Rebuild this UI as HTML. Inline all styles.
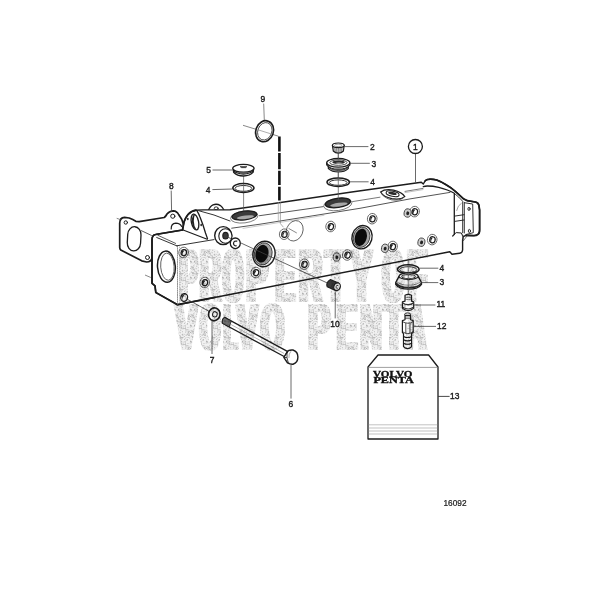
<!DOCTYPE html>
<html><head><meta charset="utf-8"><title>16092</title>
<style>html,body{margin:0;padding:0;background:#fff;}body{width:600px;height:600px;overflow:hidden;font-family:"Liberation Sans",sans-serif;}svg{display:block;filter:blur(0.45px);}</style>
</head><body>
<svg width="600" height="600" viewBox="0 0 600 600"><defs><pattern id="st" width="16" height="16" patternUnits="userSpaceOnUse"><rect width="16" height="16" fill="#f1f1f1"/><circle cx="5.18" cy="2.41" r="0.35" fill="#b4b4b4"/><circle cx="13.14" cy="1.51" r="0.35" fill="#bebebe"/><circle cx="0.60" cy="6.94" r="0.35" fill="#bebebe"/><circle cx="1.45" cy="6.79" r="0.35" fill="#bebebe"/><circle cx="10.09" cy="9.33" r="0.35" fill="#aaaaaa"/><circle cx="0.79" cy="3.54" r="0.42" fill="#c6c6c6"/><circle cx="6.71" cy="8.65" r="0.5" fill="#bebebe"/><circle cx="1.65" cy="9.14" r="0.42" fill="#c6c6c6"/><circle cx="1.56" cy="11.39" r="0.35" fill="#bebebe"/><circle cx="7.94" cy="8.51" r="0.5" fill="#aaaaaa"/><circle cx="9.37" cy="7.25" r="0.5" fill="#bebebe"/><circle cx="12.71" cy="11.18" r="0.42" fill="#b4b4b4"/><circle cx="9.19" cy="8.40" r="0.5" fill="#aaaaaa"/><circle cx="4.61" cy="15.68" r="0.35" fill="#aaaaaa"/><circle cx="2.64" cy="5.47" r="0.6" fill="#aaaaaa"/><circle cx="0.63" cy="10.69" r="0.5" fill="#c6c6c6"/><circle cx="11.12" cy="9.51" r="0.6" fill="#b4b4b4"/><circle cx="13.44" cy="15.11" r="0.6" fill="#b4b4b4"/><circle cx="0.97" cy="11.22" r="0.6" fill="#c6c6c6"/><circle cx="11.47" cy="14.19" r="0.5" fill="#b4b4b4"/><circle cx="15.05" cy="5.69" r="0.35" fill="#aaaaaa"/><circle cx="0.94" cy="12.29" r="0.42" fill="#bebebe"/><circle cx="6.37" cy="14.67" r="0.6" fill="#b4b4b4"/><circle cx="2.66" cy="6.43" r="0.5" fill="#bebebe"/><circle cx="13.11" cy="13.82" r="0.5" fill="#aaaaaa"/><circle cx="15.78" cy="10.92" r="0.6" fill="#bebebe"/><circle cx="2.41" cy="2.82" r="0.42" fill="#bebebe"/><circle cx="0.19" cy="13.30" r="0.42" fill="#c6c6c6"/><circle cx="4.51" cy="2.33" r="0.5" fill="#c6c6c6"/><circle cx="15.25" cy="11.05" r="0.35" fill="#aaaaaa"/><circle cx="14.39" cy="12.48" r="0.6" fill="#aaaaaa"/><circle cx="6.38" cy="1.66" r="0.6" fill="#b4b4b4"/><circle cx="3.05" cy="15.75" r="0.6" fill="#bebebe"/><circle cx="1.76" cy="9.61" r="0.35" fill="#b4b4b4"/><circle cx="9.07" cy="8.59" r="0.5" fill="#b4b4b4"/><circle cx="1.13" cy="3.33" r="0.6" fill="#bebebe"/><circle cx="10.15" cy="15.29" r="0.5" fill="#aaaaaa"/><circle cx="1.97" cy="13.58" r="0.6" fill="#aaaaaa"/><circle cx="7.74" cy="1.37" r="0.35" fill="#c6c6c6"/><circle cx="11.85" cy="7.66" r="0.42" fill="#b4b4b4"/><circle cx="3.28" cy="15.23" r="0.5" fill="#bebebe"/><circle cx="11.04" cy="14.63" r="0.5" fill="#b4b4b4"/><circle cx="11.14" cy="4.18" r="0.5" fill="#bebebe"/><circle cx="5.69" cy="3.56" r="0.5" fill="#bebebe"/><circle cx="9.81" cy="12.61" r="0.42" fill="#bebebe"/><circle cx="13.09" cy="11.84" r="0.42" fill="#bebebe"/><circle cx="8.28" cy="5.69" r="0.35" fill="#b4b4b4"/><circle cx="12.64" cy="7.56" r="0.42" fill="#c6c6c6"/><circle cx="7.16" cy="14.99" r="0.5" fill="#c6c6c6"/><circle cx="1.29" cy="1.63" r="0.6" fill="#bebebe"/><circle cx="5.40" cy="7.72" r="0.35" fill="#aaaaaa"/><circle cx="14.55" cy="5.50" r="0.35" fill="#b4b4b4"/><circle cx="14.56" cy="12.52" r="0.42" fill="#aaaaaa"/><circle cx="14.22" cy="6.94" r="0.5" fill="#b4b4b4"/><circle cx="12.81" cy="15.55" r="0.6" fill="#aaaaaa"/><circle cx="6.42" cy="15.15" r="0.42" fill="#bebebe"/><circle cx="15.89" cy="0.44" r="0.6" fill="#bebebe"/><circle cx="9.79" cy="9.53" r="0.6" fill="#c6c6c6"/><circle cx="2.49" cy="8.77" r="0.35" fill="#b4b4b4"/><circle cx="12.79" cy="11.62" r="0.35" fill="#bebebe"/><circle cx="6.94" cy="13.95" r="0.42" fill="#b4b4b4"/><circle cx="4.03" cy="4.69" r="0.42" fill="#c6c6c6"/><circle cx="4.15" cy="6.70" r="0.42" fill="#b4b4b4"/><circle cx="14.56" cy="5.66" r="0.6" fill="#aaaaaa"/><circle cx="13.23" cy="14.05" r="0.42" fill="#bebebe"/><circle cx="8.38" cy="0.30" r="0.6" fill="#bebebe"/><circle cx="9.74" cy="12.42" r="0.42" fill="#bebebe"/><circle cx="2.26" cy="9.91" r="0.35" fill="#b4b4b4"/><circle cx="5.22" cy="8.29" r="0.6" fill="#b4b4b4"/><circle cx="14.13" cy="0.91" r="0.42" fill="#c6c6c6"/><circle cx="0.68" cy="1.56" r="0.6" fill="#b4b4b4"/><circle cx="12.16" cy="14.60" r="0.6" fill="#c6c6c6"/><circle cx="9.80" cy="8.09" r="0.42" fill="#c6c6c6"/><circle cx="7.24" cy="8.53" r="0.6" fill="#bebebe"/><circle cx="11.19" cy="14.02" r="0.5" fill="#bebebe"/><circle cx="13.44" cy="2.19" r="0.35" fill="#aaaaaa"/><circle cx="7.07" cy="1.16" r="0.42" fill="#aaaaaa"/><circle cx="1.17" cy="10.71" r="0.35" fill="#bebebe"/><circle cx="15.03" cy="10.30" r="0.5" fill="#bebebe"/><circle cx="4.05" cy="2.20" r="0.6" fill="#bebebe"/><circle cx="11.95" cy="1.51" r="0.6" fill="#bebebe"/><circle cx="15.84" cy="13.32" r="0.42" fill="#aaaaaa"/><circle cx="15.91" cy="6.46" r="0.6" fill="#bebebe"/><circle cx="5.71" cy="1.48" r="0.5" fill="#b4b4b4"/><circle cx="5.41" cy="7.34" r="0.35" fill="#aaaaaa"/><circle cx="5.30" cy="9.98" r="0.35" fill="#b4b4b4"/><circle cx="15.76" cy="12.61" r="0.35" fill="#b4b4b4"/><circle cx="4.25" cy="0.63" r="0.42" fill="#c6c6c6"/><circle cx="12.09" cy="13.12" r="0.5" fill="#aaaaaa"/><circle cx="2.39" cy="14.71" r="0.6" fill="#c6c6c6"/><circle cx="1.43" cy="0.92" r="0.42" fill="#aaaaaa"/><circle cx="14.32" cy="4.30" r="0.35" fill="#b4b4b4"/><circle cx="12.83" cy="1.34" r="0.42" fill="#b4b4b4"/><circle cx="4.23" cy="1.95" r="0.35" fill="#c6c6c6"/><circle cx="15.91" cy="6.68" r="0.5" fill="#bebebe"/><circle cx="0.69" cy="11.35" r="0.35" fill="#bebebe"/><circle cx="4.19" cy="2.90" r="0.5" fill="#c6c6c6"/><circle cx="8.50" cy="3.29" r="0.6" fill="#bebebe"/><circle cx="4.33" cy="12.86" r="0.5" fill="#b4b4b4"/><circle cx="0.25" cy="11.73" r="0.42" fill="#aaaaaa"/><circle cx="3.93" cy="7.15" r="0.6" fill="#aaaaaa"/><circle cx="8.73" cy="14.22" r="0.5" fill="#bebebe"/><circle cx="15.72" cy="5.48" r="0.42" fill="#aaaaaa"/><circle cx="15.83" cy="15.71" r="0.42" fill="#b4b4b4"/><circle cx="1.13" cy="11.85" r="0.5" fill="#aaaaaa"/><circle cx="2.61" cy="1.35" r="0.6" fill="#c6c6c6"/><circle cx="9.58" cy="11.08" r="0.35" fill="#aaaaaa"/><circle cx="2.97" cy="4.30" r="0.35" fill="#c6c6c6"/><circle cx="5.83" cy="5.26" r="0.5" fill="#bebebe"/><circle cx="0.55" cy="14.12" r="0.42" fill="#c6c6c6"/><circle cx="2.93" cy="5.37" r="0.35" fill="#aaaaaa"/><circle cx="4.46" cy="10.50" r="0.42" fill="#b4b4b4"/><circle cx="1.45" cy="13.07" r="0.42" fill="#aaaaaa"/><circle cx="9.39" cy="6.30" r="0.5" fill="#c6c6c6"/><circle cx="10.07" cy="1.35" r="0.42" fill="#aaaaaa"/><circle cx="12.23" cy="11.53" r="0.6" fill="#bebebe"/><circle cx="4.55" cy="9.90" r="0.42" fill="#b4b4b4"/><circle cx="13.20" cy="11.44" r="0.6" fill="#bebebe"/><circle cx="14.56" cy="12.05" r="0.35" fill="#bebebe"/><circle cx="1.36" cy="0.67" r="0.5" fill="#b4b4b4"/><circle cx="6.03" cy="7.22" r="0.35" fill="#b4b4b4"/><circle cx="10.02" cy="10.89" r="0.6" fill="#c6c6c6"/><circle cx="0.05" cy="12.76" r="0.35" fill="#b4b4b4"/><circle cx="11.93" cy="7.58" r="0.35" fill="#c6c6c6"/><circle cx="3.76" cy="12.10" r="0.42" fill="#aaaaaa"/><circle cx="7.90" cy="6.12" r="0.6" fill="#c6c6c6"/><circle cx="12.27" cy="9.87" r="0.42" fill="#b4b4b4"/><circle cx="9.60" cy="5.31" r="0.5" fill="#bebebe"/><circle cx="0.20" cy="0.97" r="0.5" fill="#b4b4b4"/><circle cx="11.07" cy="10.81" r="0.5" fill="#c6c6c6"/><circle cx="7.43" cy="7.46" r="0.35" fill="#bebebe"/><circle cx="4.99" cy="1.37" r="0.6" fill="#b4b4b4"/><circle cx="4.63" cy="1.22" r="0.6" fill="#c6c6c6"/><circle cx="6.19" cy="14.66" r="0.42" fill="#b4b4b4"/><circle cx="9.30" cy="2.27" r="0.5" fill="#c6c6c6"/><circle cx="2.12" cy="13.12" r="0.5" fill="#b4b4b4"/><circle cx="11.25" cy="3.70" r="0.6" fill="#aaaaaa"/><circle cx="0.40" cy="0.06" r="0.6" fill="#aaaaaa"/><circle cx="6.49" cy="11.63" r="0.6" fill="#c6c6c6"/><circle cx="6.02" cy="1.93" r="0.5" fill="#b4b4b4"/><circle cx="5.19" cy="5.41" r="0.6" fill="#b4b4b4"/><circle cx="15.04" cy="3.13" r="0.35" fill="#c6c6c6"/><circle cx="4.05" cy="1.04" r="0.6" fill="#b4b4b4"/><circle cx="5.77" cy="6.85" r="0.5" fill="#b4b4b4"/><circle cx="4.49" cy="0.83" r="0.5" fill="#bebebe"/><circle cx="3.99" cy="4.25" r="0.5" fill="#bebebe"/><circle cx="12.37" cy="12.56" r="0.6" fill="#b4b4b4"/><circle cx="12.99" cy="10.09" r="0.42" fill="#b4b4b4"/><circle cx="0.79" cy="11.72" r="0.6" fill="#bebebe"/><circle cx="10.31" cy="4.58" r="0.35" fill="#bebebe"/></pattern></defs><rect width="600" height="600" fill="#fff"/><g id="all"><!-- ============ GASKET 8 ============ -->
<g fill="#fff" stroke="#1c1c1c" stroke-width="1.7" stroke-linejoin="round" stroke-linecap="round">
<path d="M119.7,224 Q119.4,217.6 124.5,217.3 L129.2,218 Q133,219.5 135.8,221.3 L139.2,221.7 L164.2,217.5 Q166,216 167,214 Q169.5,211 173.3,210.8 Q177,211 178.6,214.5 L181.7,219.2 L186,232 L152,258.3 Q151,262 146.7,262 L141.7,260.8 L120.8,250 Q119.7,249 119.7,247.5 Z"/>
<rect x="127.5" y="226.7" width="13.3" height="24.2" rx="6.6" ry="8" transform="rotate(3 134 238.7)" stroke-width="1.3"/>
<circle cx="125.8" cy="222.5" r="1.7" stroke-width="1"/>
<circle cx="172.8" cy="216.2" r="2.1" stroke-width="1"/>
<circle cx="147.5" cy="257.5" r="2" stroke-width="1"/>
<path d="M171.2,229 Q171,223.4 175.8,223.2 Q180,223.3 181.7,226.5" fill="none" stroke-width="1.2"/>
</g>
<!-- centre dashes near gasket -->
<g stroke="#555" stroke-width="0.7" fill="none">
<path d="M116.7,218.3 L120.8,219.7"/>
<path d="M145,275 L150.8,277.5"/>
</g>

<!-- ============ BLOCK 1 ============ -->
<g fill="#fff" stroke="#1c1c1c" stroke-width="1.7" stroke-linejoin="round" stroke-linecap="round">
<!-- back ear -->
<path d="M208.3,210.6 Q210,206 213,204.8 Q217,203.4 220.4,205.6 Q223,207.6 224.2,210.6 Z" stroke-width="1.3"/>
<ellipse cx="216.2" cy="208.3" rx="2" ry="1.4" stroke-width="0.9"/>
<!-- main silhouette -->
<path stroke-width="1.4" d="M152,240 Q152,235 155.5,234.5 L182.5,230 L184,222 Q185.5,217.5 188,214.5 Q191.5,210.8 196,210.2 L203,209.9 L230,209.8 L250,207 L350,192.3 L421.3,182.2 L423.3,184 L425.3,180.7 Q426.5,179.3 428.7,179.3 Q433,179 436.7,180 Q442,182 446,184.7 Q451,187.5 455.3,191.3 Q459.5,195 463.3,198.7 L467.3,200.7 L475.3,202 Q478.3,202.5 478.9,205.3 L479.6,210 L479.6,230 Q479.6,233.5 478,234.3 Q476.5,235.6 474,235.6 L466,235.3 L463.3,236.5 L462.6,240 L462.6,250 Q462.3,253 459.7,253.2 L452,254.2 L449.8,251.8 L177.5,304.7 L155.8,292.5 L155,285.8 L152,283.3 Z"/>
</g>
<g id="over"><g fill="none" stroke="#1c1c1c" stroke-width="1.1" stroke-linejoin="round" stroke-linecap="round">
<!-- heavier left end outline -->
<path d="M196,210.2 Q191.5,210.8 188,214.5 Q185.5,217.5 184,222 L182.5,230 L155.5,234.5 Q152,235 152,240 L152,283.3 L155,285.8 L155.8,292.5 L177.5,304.7 L215,297.4" stroke-width="1.75"/>
<path d="M157.7,235.2 L175.6,243.4" stroke-width="0.8" stroke="#333"/>
<path d="M141.2,230.6 L151.4,235.4" stroke-width="0.8" stroke="#333"/>
<!-- heavier right flange + top hump outline -->
<path d="M425.3,180.7 Q426.5,179.3 428.7,179.3 Q433,179 436.7,180 Q442,182 446,184.7 Q451,187.5 455.3,191.3 Q459.5,195 463.3,198.7 L467.3,200.7 L475.3,202 Q478.3,202.5 478.9,205.3 L479.6,210 L479.6,230 Q479.6,233.5 478,234.3 Q476.5,235.6 474,235.6 L466,235.3" stroke-width="1.75"/>
<!-- end face top inner edge -->
<path d="M156.7,237.5 L176.7,245.8" stroke-width="0.9"/>
<!-- end face / front face vertical -->
<path d="M177.5,246 L177.5,304.5" stroke="#777" stroke-width="0.8" stroke-dasharray="1.2 1"/>
<path d="M179.6,247 L179.6,303.5" stroke="#999" stroke-width="0.6" stroke-dasharray="0.8 1.4"/>
<!-- front top edge left part -->
<path d="M176.7,245.8 L214,239.6" stroke-width="0.9"/>
<!-- ear -->
<path d="M182.5,229.8 L207.2,239.2" stroke-width="1.2"/>
<path d="M197,210.8 Q199,214 200,217 L203,225 L205.5,233 L207.5,238.6" stroke-width="1.3"/>
<path d="M199,210.8 L214,215 L230,221" stroke-width="1" stroke="#333"/>
<!-- line 2 thin on top face -->
<path d="M259.5,215.7 L323.5,206.6" stroke="#444" stroke-width="0.9"/>
<path d="M352.5,201.6 L380,197.2 M405,191.4 L423,188.4" stroke="#555" stroke-width="0.8"/>
<path d="M405,192.6 L423,189.6" stroke="#999" stroke-width="0.6"/>
<!-- line 3 front top edge -->
<path d="M231.7,228.2 L260,224.2 L360,208.3 L410,198.9 L450,192.4" stroke-width="1" stroke="#555"/>
<path d="M243,228.4 L324,215.3" stroke="#aaa" stroke-width="0.6"/>
<!-- right end raised wall -->
<path d="M423.3,186.7 Q425,186 427.3,186 Q433,186 438.7,187.3 Q443,188.3 447.3,190 Q451,191.5 454.3,193.3 L454.3,234.3" stroke-width="1.3"/>
<path d="M454.3,193.3 Q459,197 462.7,201.3 L462.7,232.7" stroke-width="0.9"/>
<path d="M454.3,234.3 L452.7,236" stroke-width="1.2"/>
<path d="M454.3,234.3 L456.2,232.6 L461.4,233 L462.6,236" stroke-width="1"/>
<!-- flange face -->
<path d="M464.3,202.7 L472.7,204 L473.3,232.7 L466,234.5" stroke-width="0.9"/>
<path d="M464.3,202.7 L464.3,233" stroke-width="0.9"/>
<ellipse cx="469" cy="208.9" rx="1.1" ry="1.6" stroke-width="0.9"/>
<ellipse cx="469.4" cy="231" rx="1.1" ry="1.6" stroke-width="0.9"/>
<!-- slot -->
<path d="M454.6,216.1 L464,214.7" stroke-width="0.9"/>
<path d="M454.6,221.4 L464,220" stroke-width="0.9"/>
<path d="M456.7,210.5 Q457.5,205.5 461.3,203.3" stroke="#777" stroke-width="0.7"/>
<!-- V -->
<path d="M462.6,234.8 L463.2,241 L467.3,235.6" stroke-width="0.7" stroke="#444"/>
</g>
</g><ellipse cx="183.6" cy="252.5" rx="4.8" ry="5.3" transform="rotate(12 183.6 252.5)" fill="#fff" stroke="#5a5a5a" stroke-width="0.85"/><ellipse cx="183.9" cy="252.6" rx="2.7" ry="3.1" transform="rotate(12 183.6 252.5)" fill="#fff" stroke="#1c1c1c" stroke-width="1.2"/><path d="M182.2,250.8 Q181.0,252.7 182.6,254.9 Q182.29999999999998,252.7 184.29999999999998,250.4 Z" fill="#222" stroke="none"/>
<ellipse cx="204.7" cy="282.5" rx="4.8" ry="5.3" transform="rotate(12 204.7 282.5)" fill="#fff" stroke="#5a5a5a" stroke-width="0.85"/><ellipse cx="205.0" cy="282.6" rx="2.7" ry="3.1" transform="rotate(12 204.7 282.5)" fill="#fff" stroke="#1c1c1c" stroke-width="1.2"/><path d="M203.29999999999998,280.8 Q202.1,282.7 203.7,284.9 Q203.39999999999998,282.7 205.39999999999998,280.4 Z" fill="#222" stroke="none"/>
<ellipse cx="255.8" cy="272.5" rx="4.8" ry="5.3" transform="rotate(12 255.8 272.5)" fill="#fff" stroke="#5a5a5a" stroke-width="0.85"/><ellipse cx="256.1" cy="272.6" rx="2.7" ry="3.1" transform="rotate(12 255.8 272.5)" fill="#fff" stroke="#1c1c1c" stroke-width="1.2"/><path d="M254.4,270.8 Q253.20000000000002,272.7 254.8,274.9 Q254.5,272.7 256.5,270.4 Z" fill="#222" stroke="none"/>
<ellipse cx="284.2" cy="234.2" rx="4.8" ry="5.3" transform="rotate(12 284.2 234.2)" fill="#fff" stroke="#5a5a5a" stroke-width="0.85"/><ellipse cx="284.5" cy="234.29999999999998" rx="2.7" ry="3.1" transform="rotate(12 284.2 234.2)" fill="#fff" stroke="#1c1c1c" stroke-width="1.2"/><path d="M282.8,232.5 Q281.59999999999997,234.39999999999998 283.2,236.6 Q282.9,234.39999999999998 284.9,232.1 Z" fill="#222" stroke="none"/>
<ellipse cx="304.2" cy="264.2" rx="4.8" ry="5.3" transform="rotate(12 304.2 264.2)" fill="#fff" stroke="#5a5a5a" stroke-width="0.85"/><ellipse cx="304.5" cy="264.3" rx="2.7" ry="3.1" transform="rotate(12 304.2 264.2)" fill="#fff" stroke="#1c1c1c" stroke-width="1.2"/><path d="M302.8,262.5 Q301.59999999999997,264.4 303.2,266.59999999999997 Q302.9,264.4 304.9,262.09999999999997 Z" fill="#222" stroke="none"/>
<ellipse cx="330.6" cy="226.5" rx="4.8" ry="5.3" transform="rotate(12 330.6 226.5)" fill="#fff" stroke="#5a5a5a" stroke-width="0.85"/><ellipse cx="330.90000000000003" cy="226.6" rx="2.7" ry="3.1" transform="rotate(12 330.6 226.5)" fill="#fff" stroke="#1c1c1c" stroke-width="1.2"/><path d="M329.20000000000005,224.8 Q328.0,226.7 329.6,228.9 Q329.3,226.7 331.3,224.4 Z" fill="#222" stroke="none"/>
<ellipse cx="372.2" cy="218.7" rx="4.8" ry="5.3" transform="rotate(12 372.2 218.7)" fill="#fff" stroke="#5a5a5a" stroke-width="0.85"/><ellipse cx="372.5" cy="218.79999999999998" rx="2.7" ry="3.1" transform="rotate(12 372.2 218.7)" fill="#fff" stroke="#1c1c1c" stroke-width="1.2"/><path d="M370.8,217.0 Q369.59999999999997,218.89999999999998 371.2,221.1 Q370.9,218.89999999999998 372.9,216.6 Z" fill="#222" stroke="none"/>
<ellipse cx="347.3" cy="255" rx="4.8" ry="5.3" transform="rotate(12 347.3 255)" fill="#fff" stroke="#5a5a5a" stroke-width="0.85"/><ellipse cx="347.6" cy="255.1" rx="2.7" ry="3.1" transform="rotate(12 347.3 255)" fill="#fff" stroke="#1c1c1c" stroke-width="1.2"/><path d="M345.90000000000003,253.3 Q344.7,255.2 346.3,257.4 Q346.0,255.2 348.0,252.9 Z" fill="#222" stroke="none"/>
<ellipse cx="392.6" cy="246.5" rx="4.8" ry="5.3" transform="rotate(12 392.6 246.5)" fill="#fff" stroke="#5a5a5a" stroke-width="0.85"/><ellipse cx="392.90000000000003" cy="246.6" rx="2.7" ry="3.1" transform="rotate(12 392.6 246.5)" fill="#fff" stroke="#1c1c1c" stroke-width="1.2"/><path d="M391.20000000000005,244.8 Q390.0,246.7 391.6,248.9 Q391.3,246.7 393.3,244.4 Z" fill="#222" stroke="none"/>
<ellipse cx="414.6" cy="211.6" rx="4.8" ry="5.3" transform="rotate(12 414.6 211.6)" fill="#fff" stroke="#5a5a5a" stroke-width="0.85"/><ellipse cx="414.90000000000003" cy="211.7" rx="2.7" ry="3.1" transform="rotate(12 414.6 211.6)" fill="#fff" stroke="#1c1c1c" stroke-width="1.2"/><path d="M413.20000000000005,209.9 Q412.0,211.79999999999998 413.6,214.0 Q413.3,211.79999999999998 415.3,209.5 Z" fill="#222" stroke="none"/>
<ellipse cx="432.2" cy="239.6" rx="4.8" ry="5.3" transform="rotate(12 432.2 239.6)" fill="#fff" stroke="#5a5a5a" stroke-width="0.85"/><ellipse cx="432.5" cy="239.7" rx="2.7" ry="3.1" transform="rotate(12 432.2 239.6)" fill="#fff" stroke="#1c1c1c" stroke-width="1.2"/><path d="M430.8,237.9 Q429.59999999999997,239.79999999999998 431.2,242.0 Q430.9,239.79999999999998 432.9,237.5 Z" fill="#222" stroke="none"/>
<ellipse cx="336.7" cy="257" rx="3.5" ry="4.2" transform="rotate(12 336.7 257)" fill="#cfcfcf" stroke="#444" stroke-width="0.9"/><ellipse cx="336.9" cy="257.2" rx="1.5" ry="1.9" transform="rotate(12 336.7 257)" fill="#222" stroke="none"/>
<ellipse cx="385" cy="248.3" rx="3.5" ry="4.2" transform="rotate(12 385 248.3)" fill="#cfcfcf" stroke="#444" stroke-width="0.9"/><ellipse cx="385.2" cy="248.5" rx="1.5" ry="1.9" transform="rotate(12 385 248.3)" fill="#222" stroke="none"/>
<ellipse cx="407.6" cy="213" rx="3.5" ry="4.2" transform="rotate(12 407.6 213)" fill="#cfcfcf" stroke="#444" stroke-width="0.9"/><ellipse cx="407.8" cy="213.2" rx="1.5" ry="1.9" transform="rotate(12 407.6 213)" fill="#222" stroke="none"/>
<ellipse cx="421.4" cy="242.2" rx="3.5" ry="4.2" transform="rotate(12 421.4 242.2)" fill="#cfcfcf" stroke="#444" stroke-width="0.9"/><ellipse cx="421.59999999999997" cy="242.39999999999998" rx="1.5" ry="1.9" transform="rotate(12 421.4 242.2)" fill="#222" stroke="none"/>
<ellipse cx="184.2" cy="297.5" rx="3.4" ry="3.9" transform="rotate(12 184.2 297.5)" fill="#fff" stroke="#1c1c1c" stroke-width="1.2"/><path d="M181.6,295.9 Q183.2,293.5 186.2,294.5 Q182.6,295.1 182.39999999999998,299.9 Z" fill="#333" stroke="none"/><!-- ear hole -->
<g stroke="#1c1c1c" stroke-linecap="round" stroke-linejoin="round">
<ellipse cx="195" cy="222" rx="3.6" ry="8" transform="rotate(-12 195 222)" fill="#fff" stroke-width="1.3"/>
<path d="M193.2,215.2 Q190.6,220 193,226.4 Q194.6,229.6 196.4,229.6 Q193.8,226 193.8,221 Q193.8,217 195,214.6 Z" fill="#222" stroke="none"/>
<ellipse cx="187.8" cy="219" rx="0.9" ry="1.3" fill="#333" stroke="none"/>
<ellipse cx="201.2" cy="225" rx="0.9" ry="1.3" fill="#333" stroke="none"/>
</g>

<!-- end face port -->
<g stroke="#1c1c1c" fill="#fff">
<ellipse cx="166.4" cy="266.7" rx="8.9" ry="15.6" transform="rotate(-4 166.4 266.7)" stroke-width="1.5"/>
<ellipse cx="167.4" cy="266.7" rx="6.7" ry="13.6" transform="rotate(-4 167.4 266.7)" stroke-width="0.9" stroke="#555"/>
</g>

<!-- top ports -->
<g stroke="#1c1c1c" fill="#fff">
<!-- left top port (under 4/5) -->
<ellipse cx="244.3" cy="217" rx="13.8" ry="5.9" transform="rotate(-7 244.3 217)" stroke-width="0.8" stroke="#666"/>
<ellipse cx="244.4" cy="215.5" rx="12.5" ry="4.4" transform="rotate(-7 244.4 215.5)" fill="#3a3a3a" stroke-width="1.3"/>
<ellipse cx="245.4" cy="217.2" rx="8.6" ry="1.7" transform="rotate(-7 245.4 217.2)" fill="#a8a8a8" stroke="none"/>
<!-- right top port (under 2/3/4) -->
<ellipse cx="337.8" cy="204.4" rx="14.2" ry="6.1" transform="rotate(-8 337.8 204.4)" stroke-width="0.8" stroke="#666"/>
<ellipse cx="337.9" cy="202.9" rx="12.7" ry="4.6" transform="rotate(-8 337.9 202.9)" fill="#3a3a3a" stroke-width="1.3"/>
<ellipse cx="338.9" cy="204.6" rx="8.8" ry="1.8" transform="rotate(-8 338.9 204.6)" fill="#a8a8a8" stroke="none"/>
<!-- small oval flange boss on top -->
<g transform="rotate(11 392.7 194.3)">
<path d="M380.4,194.3 Q384,190.2 392.7,190 Q401.4,190.2 405,194.3 Q401.4,198.5 392.7,198.7 Q384,198.5 380.4,194.3 Z" stroke-width="1.2"/>
<path d="M381.5,195.6 Q385,199.6 392.7,199.9 Q400.4,199.6 404,195.6" fill="none" stroke-width="0.8" stroke="#444"/>
<ellipse cx="392.5" cy="193.8" rx="6.6" ry="2.6" stroke-width="1"/>
<ellipse cx="392.3" cy="193.5" rx="4.3" ry="1.4" fill="#2a2a2a" stroke="none"/>
</g>
</g>

<!-- boss on front face -->
<g stroke="#1c1c1c" fill="#fff">
<ellipse cx="223.2" cy="235.6" rx="8.5" ry="9" stroke-width="1.4"/>
<ellipse cx="225.4" cy="236" rx="6.6" ry="7.3" stroke-width="1.1" />
<ellipse cx="225.5" cy="235.7" rx="2.7" ry="3.3" fill="#3a3a3a" stroke-width="1.1"/>
<!-- small ring -->
<ellipse cx="235.3" cy="243.3" rx="5" ry="5.3" stroke-width="1.3"/>
<path d="M237.3,241.2 Q234,240.4 233.5,243.4 Q233.8,246.2 236.6,245.7" fill="none" stroke-width="1.2"/>
</g>

<!-- big ports on front face -->
<g stroke="#1c1c1c">
<ellipse cx="264" cy="254" rx="11" ry="12.9" transform="rotate(14 264 254)" fill="#fff" stroke-width="1.4"/>
<ellipse cx="263.2" cy="253.9" rx="8.8" ry="11.2" transform="rotate(14 263.2 253.9)" fill="#a4a4a4" stroke-width="0.7"/>
<ellipse cx="262" cy="253.7" rx="6.4" ry="9" transform="rotate(14 262 253.7)" fill="#0c0c0c" stroke="none"/>
<ellipse cx="362" cy="237.2" rx="10" ry="11.8" transform="rotate(16 362 237.2)" fill="#fff" stroke-width="1.4"/>
<ellipse cx="361.6" cy="237.2" rx="8.2" ry="10.3" transform="rotate(16 361.6 237.2)" fill="#a4a4a4" stroke-width="0.7"/>
<ellipse cx="360.8" cy="237.3" rx="5.9" ry="8.8" transform="rotate(16 360.8 237.3)" fill="#0c0c0c" stroke="none"/>
</g>

<!-- hidden circle -->
<ellipse cx="294.6" cy="230.8" rx="8.2" ry="10.5" transform="rotate(22 294.6 230.8)" fill="none" stroke="#444" stroke-width="0.75"/>
<path d="M280.4,202 L280.4,223.6 L283.4,227.2" fill="none" stroke="#777" stroke-width="0.6"/>
<path d="M278.3,202 L278.3,222" fill="none" stroke="#999" stroke-width="0.6"/>
<path d="M288.6,228.4 L296.8,233" fill="none" stroke="#555" stroke-width="0.7"/>
<!-- ========== ring 9 + dashed line ========== -->
<g fill="none" stroke="#1c1c1c">
<path d="M243,125.3 L278.4,136.2" stroke="#555" stroke-width="0.7"/>
<ellipse cx="264.6" cy="131.2" rx="8.8" ry="10.7" transform="rotate(20 264.6 131.2)" stroke-width="1.6" fill="#fff"/>
<ellipse cx="264.8" cy="131.3" rx="7" ry="8.9" transform="rotate(20 264.8 131.3)" stroke-width="0.8" stroke="#333"/>
<path d="M258,129.8 L272,134.2" stroke="#777" stroke-width="0.6"/>
<path d="M279.4,136.6 L279.4,151.4 M279.4,152.9 L279.4,169.2 M279.4,170.8 L279.4,185 M279.4,186.7 L279.4,200.6" stroke-width="2.6" stroke="#111"/>
<path d="M263.7,103.6 L264.3,120" stroke="#555" stroke-width="0.7"/>
</g>

<!-- ========== part 5 cap ========== -->
<g stroke="#1c1c1c" fill="#fff" stroke-linejoin="round">
<path d="M243.6,175 L243.6,211" stroke="#555" stroke-width="0.7" fill="none"/>
<path d="M233.4,169.6 L233.6,172.2 Q237,176 243.4,176 Q250,176 253.2,172.2 L253.4,169.6 Z" stroke-width="1.3"/>
<path d="M233,170.4 Q236.6,174 243.4,174 Q250.2,174 253.8,170.4" fill="none" stroke-width="1.3" stroke="#222"/>
<ellipse cx="243.4" cy="168.3" rx="10.7" ry="3.9" stroke-width="1.3"/>
<path d="M240,166.6 L247,166.6 L245.6,167.7 L241.6,167.7 Z" fill="#333" stroke-width="0.5"/>
</g>
<!-- ring 4 left -->
<g stroke="#1c1c1c" fill="none">
<ellipse cx="243.4" cy="188" rx="10.6" ry="4.4" stroke-width="1.5" fill="#fff"/>
<ellipse cx="243.4" cy="188.4" rx="8.4" ry="2.9" stroke-width="0.9"/>
<path d="M243.6,183.6 L243.6,192.4" stroke="#555" stroke-width="0.7"/>
</g>

<!-- ========== parts 2,3,4 (upper right) ========== -->
<g stroke="#1c1c1c" fill="#fff" stroke-linejoin="round">
<path d="M338.3,151 L338.3,200" stroke="#555" stroke-width="0.7" fill="none"/>
<!-- 2 plug -->
<path d="M332.4,145.4 L333.3,151 Q335.4,153.2 338.3,153.2 Q341.4,153.2 343.4,151 L344.2,145.4 Z" stroke-width="1.2" fill="#d4d4d4"/>
<path d="M334.8,147.8 L335.2,152 M336.6,148.2 L336.8,152.7 M338.4,148.2 L338.4,152.9 M340.2,148.2 L340,152.7 M341.9,147.8 L341.5,152" stroke="#444" stroke-width="0.55" fill="none"/>
<ellipse cx="338.3" cy="145.3" rx="5.9" ry="2.3" stroke-width="1.2"/>
<ellipse cx="338.3" cy="145.4" rx="3.8" ry="1.2" stroke-width="0.6" stroke="#666"/>
<!-- 3 bushing -->
<path d="M328.2,165.5 L328.4,168.6 Q332,172 338.3,172 Q344.8,172 348.2,168.6 L348.4,165.5 Z" stroke-width="1.2" fill="#b0b0b0"/>
<path d="M328.6,167.4 Q332,170.5 338.3,170.5 Q344.8,170.5 348,167.4" fill="none" stroke-width="0.9" stroke="#333"/>
<path d="M326.7,163 L326.7,165 Q330,169.2 338.3,169.2 Q346.8,169.2 349.9,165 L349.9,163 Z" stroke-width="1.2"/>
<ellipse cx="338.3" cy="162.8" rx="11.6" ry="4.3" stroke-width="1.3"/>
<ellipse cx="338.4" cy="162.6" rx="8.6" ry="2.7" stroke-width="0.8" fill="#fff"/>
<ellipse cx="338.6" cy="162.2" rx="6.3" ry="1.7" stroke="none" fill="#2c2c2c"/>
<ellipse cx="339" cy="163.1" rx="3.6" ry="0.7" stroke="none" fill="#bbb"/>
<!-- 4 ring -->
<ellipse cx="338.2" cy="182.2" rx="11.2" ry="4.2" stroke-width="1.5"/>
<ellipse cx="338.2" cy="182.6" rx="8.9" ry="2.7" stroke-width="0.9" fill="none"/>
<path d="M338.3,153.4 L338.3,160.4 M338.3,172.4 L338.3,186.5" stroke="#555" stroke-width="0.7" fill="none"/>
</g>

<!-- ========== lower parts 4,3,11,12 ========== -->
<g stroke="#1c1c1c" fill="#fff" stroke-linejoin="round">
<path d="M408.3,258.5 L408.3,296" stroke="#555" stroke-width="0.7" fill="none"/>
<!-- ring 4 -->
<ellipse cx="408.3" cy="269.2" rx="10.8" ry="4.4" stroke-width="1.5"/>
<ellipse cx="408.3" cy="269.6" rx="8.6" ry="2.9" stroke-width="0.9" fill="none"/>
<!-- bushing 3 (upside down) -->
<path d="M399,276.4 L395.7,282.6 L395.7,284.4 Q399,289.2 408.6,289.2 Q418.4,289.2 421.5,284.4 L421.5,282.6 L418.2,276.4 Z" stroke-width="1.3" fill="#f4f4f4"/>
<path d="M396.1,283.4 Q399.4,287.6 408.6,287.6 Q418,287.6 421.1,283.4" fill="none" stroke-width="1.7" stroke="#2a2a2a"/>
<path d="M396.6,281.4 Q400,285.2 408.6,285.2 Q417.4,285.2 420.6,281.4" fill="none" stroke-width="0.7" stroke="#555"/>
<ellipse cx="408.6" cy="276.2" rx="9.6" ry="3.3" stroke-width="1.2"/>
<ellipse cx="408.6" cy="276.5" rx="7" ry="2.1" stroke-width="0.8" fill="#c4c4c4"/>
<ellipse cx="408.8" cy="277.1" rx="4.6" ry="1.1" stroke="none" fill="#fff"/>
<path d="M408.3,265 L408.3,290" stroke="#555" stroke-width="0.7" fill="none"/>
<!-- 11 -->
<path d="M405,295.2 L405,301.2 L402.4,301.8 L402.4,308.2 Q404.8,310.6 408.1,310.6 Q411.4,310.6 413.7,308.2 L413.7,301.8 L411.5,301.2 L411.5,295.2 Q408.2,293.6 405,295.2 Z" stroke-width="1.2"/>
<path d="M402.4,302.8 Q405,304.8 408.1,304.8 Q411.4,304.8 413.7,302.8" fill="none" stroke-width="1.4" stroke="#333"/>
<path d="M402.4,306.8 Q405,309 408.1,309 Q411.4,309 413.7,306.8" fill="none" stroke-width="0.9"/>
<path d="M405,297 Q408.2,298.4 411.5,297 M405,299 Q408.2,300.4 411.5,299" stroke-width="0.6" fill="none"/>
<!-- 12 -->
<ellipse cx="407.6" cy="314.4" rx="3" ry="1.5" stroke-width="1" fill="none"/>
<path d="M405,315.4 L405,319.8 L402.4,320.6 L402.4,332.6 L403.5,333.6 L403.5,346.6 Q405.4,348.6 407.6,348.6 Q409.8,348.6 411.6,346.6 L411.6,333.6 L413.2,332.6 L413.2,320.6 L410.6,319.8 L410.6,315.4 Z" stroke-width="1.2"/>
<path d="M405,317 L410.6,317 M405,318.6 L410.6,318.6" stroke-width="0.6" fill="none"/>
<path d="M402.4,321.6 Q405,323.2 407.8,323.2 Q411,323.2 413.2,321.6 M405.8,323.2 L405.8,333.4 M410,323.2 L410,333.4 M402.4,331.6 Q405,333.6 407.8,333.6 Q411,333.6 413.2,331.6" fill="none" stroke-width="0.8"/>
<path d="M403.5,336.4 Q407.6,338.6 411.6,336.4 M403.5,339.8 Q407.6,342 411.6,339.8 M403.5,343.2 Q407.6,345.4 411.6,343.2" fill="none" stroke-width="1.1"/>
</g>

<!-- ========== plug 10 ========== -->
<g stroke="#1c1c1c" stroke-linejoin="round">
<path d="M227,236.8 L231,238.6 M240.3,242.7 L328.6,283.6" stroke="#444" stroke-width="0.8" fill="none"/>
<path d="M330.2,279.6 L338.6,283 L335.6,290.4 L327.2,286.8 Q325.6,282.6 330.2,279.6 Z" fill="#3c3c3c" stroke-width="1.1"/>
<ellipse cx="337.1" cy="286.7" rx="3.2" ry="3.9" transform="rotate(20 337.1 286.7)" fill="#fff" stroke-width="1.2"/>
<path d="M338.2,285.4 Q336,285 335.9,287 Q336.2,288.6 337.8,288.2" fill="none" stroke-width="0.8"/>
<path d="M335.3,291.3 L335.2,318.4" stroke="#444" stroke-width="0.8" fill="none"/>
</g>

<!-- ========== washer 7, bolt 6 ========== -->
<g stroke="#1c1c1c" fill="#fff" stroke-linejoin="round">
<path d="M186.5,298.8 L209.3,311.5" stroke="#444" stroke-width="0.8" fill="none"/>
<ellipse cx="214.3" cy="314.3" rx="5.7" ry="6.4" transform="rotate(10 214.3 314.3)" stroke-width="1.6"/>
<ellipse cx="214.9" cy="314.3" rx="2.3" ry="2.7" transform="rotate(10 214.9 314.3)" stroke-width="1"/>
<path d="M212,320.6 L212,354" stroke="#444" stroke-width="0.8" fill="none"/>
<!-- bolt shaft -->
<path d="M224.6,317.4 L287.4,351.4 L284.6,356.8 L222.4,323.2 Q221.6,319 224.6,317.4 Z" stroke-width="1.3"/>
<path d="M224.6,317.4 L231.4,321.1 L229.2,326.9 L222.4,323.2 Q221.6,319 224.6,317.4 Z" fill="#777" stroke-width="0.8"/>
<path d="M226,321.8 L284,353.4" stroke="#888" stroke-width="0.6" fill="none"/>
<!-- head -->
<path d="M288.2,350.6 Q290.5,349.7 293,350 Q297.9,351.6 297.9,357.1 Q297.9,363 293,364.2 Q290,364.4 287.6,363 L283.8,357.4 Z" stroke-width="1.4"/>
<path d="M288.2,350.6 Q286.4,353.4 287,357.6 Q287.4,361.6 289.6,364 M287,357.6 L284,357.4" fill="none" stroke-width="0.8"/>
<path d="M291,351.2 Q288.6,353.8 288.9,358" fill="none" stroke-width="0.6" stroke="#777"/>
<path d="M291,365 L291,398.6" stroke="#444" stroke-width="0.8" fill="none"/>
</g>

<!-- ========== envelope 13 ========== -->
<g stroke="#1c1c1c" fill="#fff" stroke-linejoin="round">
<path d="M378,355 L428.6,355 L438,367 L438,439 L368,439 L368,367 Z" stroke-width="1.3" stroke="#1c1c1c"/>
<path d="M368,367.4 L438,367.4" stroke-width="0.7" stroke="#777" fill="none"/>
<path d="M368.6,424.8 L437.4,424.8 M368.6,428 L437.4,428 M368.6,431 L437.4,431 M368.6,434 L437.4,434" stroke="#999" stroke-width="0.6" fill="none"/>

<path d="M438,396.4 L449.6,396.4" stroke="#333" stroke-width="0.9" fill="none"/>
</g>
<g font-family="Liberation Serif, serif" font-weight="bold" fill="#111" stroke="#111" stroke-width="0.3">
<text x="373" y="377.1" font-size="7.4" textLength="39.4" lengthAdjust="spacingAndGlyphs">VOLVO</text>
<text x="373.4" y="383.3" font-size="7.4" textLength="40.4" lengthAdjust="spacingAndGlyphs">PENTA</text>
</g>
<g fill="none" stroke="#444" stroke-width="0.8">
<path d="M212.5,170 L232.6,170"/>
<path d="M212.4,189.6 L232.2,189"/>
<path d="M171.2,190.6 L171.6,212"/>
<path d="M344.8,146.6 L368.4,146.6"/>
<path d="M350.4,163.3 L369.8,163.3"/>
<path d="M349.8,181.8 L368.6,181.8"/>
<path d="M415.5,153.7 L415.5,182.4"/>
<path d="M419.6,268.2 L438.3,268.2"/>
<path d="M421,282.6 L438.3,282.6"/>
<path d="M413.8,305 L435.4,305"/>
<path d="M413.4,326.4 L436,326.4"/>
</g>
<circle cx="415.4" cy="146.5" r="7" fill="#fff" stroke="#1c1c1c" stroke-width="1.3"/><g font-family="Liberation Sans, sans-serif" font-size="9.6" fill="#1c1c1c" text-anchor="middle" stroke="#1c1c1c" stroke-width="0.4">
<text transform="translate(262.9,102.2) scale(0.88,1)">9</text>
<text transform="translate(208.7,173.3) scale(0.88,1)">5</text>
<text transform="translate(208.2,192.6) scale(0.88,1)">4</text>
<text transform="translate(171.4,188.9) scale(0.88,1)">8</text>
<text transform="translate(372.3,149.6) scale(0.88,1)">2</text>
<text transform="translate(373.8,166.8) scale(0.88,1)">3</text>
<text transform="translate(372.5,185.4) scale(0.88,1)">4</text>
<text transform="translate(415.3,149.9) scale(0.88,1)">1</text>
<text transform="translate(441.9,271.2) scale(0.88,1)">4</text>
<text transform="translate(441.9,285.4) scale(0.88,1)">3</text>
<text transform="translate(440.8,307.2) scale(0.88,1)">11</text>
<text transform="translate(441.8,328.8) scale(0.88,1)">12</text>
<text transform="translate(334.9,327.2) scale(0.88,1)">10</text>
<text transform="translate(212.1,362.8) scale(0.88,1)">7</text>
<text transform="translate(290.8,407.3) scale(0.88,1)">6</text>
<text transform="translate(454.8,399.4) scale(0.88,1)">13</text>
<text transform="translate(455,506.1) scale(0.9,1)" font-size="9.2" stroke-width="0.25">16092</text>
</g><g style="mix-blend-mode:multiply" font-family="Liberation Sans, sans-serif" font-weight="bold" fill="url(#st)"><text x="177.70" y="302" font-size="75.6" textLength="17.3" lengthAdjust="spacingAndGlyphs">P</text><text x="178.90" y="302" font-size="75.6" textLength="17.3" lengthAdjust="spacingAndGlyphs">P</text><text x="180.10" y="302" font-size="75.6" textLength="17.3" lengthAdjust="spacingAndGlyphs">P</text><text x="181.30" y="302" font-size="75.6" textLength="17.3" lengthAdjust="spacingAndGlyphs">P</text><text x="182.50" y="302" font-size="75.6" textLength="17.3" lengthAdjust="spacingAndGlyphs">P</text><text x="197.70" y="302" font-size="75.6" textLength="20.8" lengthAdjust="spacingAndGlyphs">R</text><text x="198.90" y="302" font-size="75.6" textLength="20.8" lengthAdjust="spacingAndGlyphs">R</text><text x="200.10" y="302" font-size="75.6" textLength="20.8" lengthAdjust="spacingAndGlyphs">R</text><text x="201.30" y="302" font-size="75.6" textLength="20.8" lengthAdjust="spacingAndGlyphs">R</text><text x="202.50" y="302" font-size="75.6" textLength="20.8" lengthAdjust="spacingAndGlyphs">R</text><text x="220.70" y="302" font-size="75.6" textLength="19.8" lengthAdjust="spacingAndGlyphs">O</text><text x="221.90" y="302" font-size="75.6" textLength="19.8" lengthAdjust="spacingAndGlyphs">O</text><text x="223.10" y="302" font-size="75.6" textLength="19.8" lengthAdjust="spacingAndGlyphs">O</text><text x="224.30" y="302" font-size="75.6" textLength="19.8" lengthAdjust="spacingAndGlyphs">O</text><text x="225.50" y="302" font-size="75.6" textLength="19.8" lengthAdjust="spacingAndGlyphs">O</text><text x="244.20" y="302" font-size="75.6" textLength="21.3" lengthAdjust="spacingAndGlyphs">P</text><text x="245.40" y="302" font-size="75.6" textLength="21.3" lengthAdjust="spacingAndGlyphs">P</text><text x="246.60" y="302" font-size="75.6" textLength="21.3" lengthAdjust="spacingAndGlyphs">P</text><text x="247.80" y="302" font-size="75.6" textLength="21.3" lengthAdjust="spacingAndGlyphs">P</text><text x="249.00" y="302" font-size="75.6" textLength="21.3" lengthAdjust="spacingAndGlyphs">P</text><text x="273.20" y="302" font-size="75.6" textLength="19.3" lengthAdjust="spacingAndGlyphs">E</text><text x="274.40" y="302" font-size="75.6" textLength="19.3" lengthAdjust="spacingAndGlyphs">E</text><text x="275.60" y="302" font-size="75.6" textLength="19.3" lengthAdjust="spacingAndGlyphs">E</text><text x="276.80" y="302" font-size="75.6" textLength="19.3" lengthAdjust="spacingAndGlyphs">E</text><text x="278.00" y="302" font-size="75.6" textLength="19.3" lengthAdjust="spacingAndGlyphs">E</text><text x="296.70" y="302" font-size="75.6" textLength="22.8" lengthAdjust="spacingAndGlyphs">R</text><text x="297.90" y="302" font-size="75.6" textLength="22.8" lengthAdjust="spacingAndGlyphs">R</text><text x="299.10" y="302" font-size="75.6" textLength="22.8" lengthAdjust="spacingAndGlyphs">R</text><text x="300.30" y="302" font-size="75.6" textLength="22.8" lengthAdjust="spacingAndGlyphs">R</text><text x="301.50" y="302" font-size="75.6" textLength="22.8" lengthAdjust="spacingAndGlyphs">R</text><text x="322.70" y="302" font-size="75.6" textLength="20.8" lengthAdjust="spacingAndGlyphs">T</text><text x="323.90" y="302" font-size="75.6" textLength="20.8" lengthAdjust="spacingAndGlyphs">T</text><text x="325.10" y="302" font-size="75.6" textLength="20.8" lengthAdjust="spacingAndGlyphs">T</text><text x="326.30" y="302" font-size="75.6" textLength="20.8" lengthAdjust="spacingAndGlyphs">T</text><text x="327.50" y="302" font-size="75.6" textLength="20.8" lengthAdjust="spacingAndGlyphs">T</text><text x="348.20" y="302" font-size="75.6" textLength="21.8" lengthAdjust="spacingAndGlyphs">Y</text><text x="349.40" y="302" font-size="75.6" textLength="21.8" lengthAdjust="spacingAndGlyphs">Y</text><text x="350.60" y="302" font-size="75.6" textLength="21.8" lengthAdjust="spacingAndGlyphs">Y</text><text x="351.80" y="302" font-size="75.6" textLength="21.8" lengthAdjust="spacingAndGlyphs">Y</text><text x="353.00" y="302" font-size="75.6" textLength="21.8" lengthAdjust="spacingAndGlyphs">Y</text><text x="380.20" y="302" font-size="75.6" textLength="20.8" lengthAdjust="spacingAndGlyphs">O</text><text x="381.40" y="302" font-size="75.6" textLength="20.8" lengthAdjust="spacingAndGlyphs">O</text><text x="382.60" y="302" font-size="75.6" textLength="20.8" lengthAdjust="spacingAndGlyphs">O</text><text x="383.80" y="302" font-size="75.6" textLength="20.8" lengthAdjust="spacingAndGlyphs">O</text><text x="385.00" y="302" font-size="75.6" textLength="20.8" lengthAdjust="spacingAndGlyphs">O</text><text x="404.70" y="302" font-size="75.6" textLength="19.8" lengthAdjust="spacingAndGlyphs">F</text><text x="405.90" y="302" font-size="75.6" textLength="19.8" lengthAdjust="spacingAndGlyphs">F</text><text x="407.10" y="302" font-size="75.6" textLength="19.8" lengthAdjust="spacingAndGlyphs">F</text><text x="408.30" y="302" font-size="75.6" textLength="19.8" lengthAdjust="spacingAndGlyphs">F</text><text x="409.50" y="302" font-size="75.6" textLength="19.8" lengthAdjust="spacingAndGlyphs">F</text><text x="173.20" y="349.5" font-size="66.2" textLength="21.3" lengthAdjust="spacingAndGlyphs">V</text><text x="174.40" y="349.5" font-size="66.2" textLength="21.3" lengthAdjust="spacingAndGlyphs">V</text><text x="175.60" y="349.5" font-size="66.2" textLength="21.3" lengthAdjust="spacingAndGlyphs">V</text><text x="176.80" y="349.5" font-size="66.2" textLength="21.3" lengthAdjust="spacingAndGlyphs">V</text><text x="178.00" y="349.5" font-size="66.2" textLength="21.3" lengthAdjust="spacingAndGlyphs">V</text><text x="197.70" y="349.5" font-size="66.2" textLength="19.8" lengthAdjust="spacingAndGlyphs">O</text><text x="198.90" y="349.5" font-size="66.2" textLength="19.8" lengthAdjust="spacingAndGlyphs">O</text><text x="200.10" y="349.5" font-size="66.2" textLength="19.8" lengthAdjust="spacingAndGlyphs">O</text><text x="201.30" y="349.5" font-size="66.2" textLength="19.8" lengthAdjust="spacingAndGlyphs">O</text><text x="202.50" y="349.5" font-size="66.2" textLength="19.8" lengthAdjust="spacingAndGlyphs">O</text><text x="221.70" y="349.5" font-size="66.2" textLength="12.8" lengthAdjust="spacingAndGlyphs">L</text><text x="222.90" y="349.5" font-size="66.2" textLength="12.8" lengthAdjust="spacingAndGlyphs">L</text><text x="224.10" y="349.5" font-size="66.2" textLength="12.8" lengthAdjust="spacingAndGlyphs">L</text><text x="225.30" y="349.5" font-size="66.2" textLength="12.8" lengthAdjust="spacingAndGlyphs">L</text><text x="226.50" y="349.5" font-size="66.2" textLength="12.8" lengthAdjust="spacingAndGlyphs">L</text><text x="234.70" y="349.5" font-size="66.2" textLength="20.3" lengthAdjust="spacingAndGlyphs">V</text><text x="235.90" y="349.5" font-size="66.2" textLength="20.3" lengthAdjust="spacingAndGlyphs">V</text><text x="237.10" y="349.5" font-size="66.2" textLength="20.3" lengthAdjust="spacingAndGlyphs">V</text><text x="238.30" y="349.5" font-size="66.2" textLength="20.3" lengthAdjust="spacingAndGlyphs">V</text><text x="239.50" y="349.5" font-size="66.2" textLength="20.3" lengthAdjust="spacingAndGlyphs">V</text><text x="258.70" y="349.5" font-size="66.2" textLength="22.8" lengthAdjust="spacingAndGlyphs">O</text><text x="259.90" y="349.5" font-size="66.2" textLength="22.8" lengthAdjust="spacingAndGlyphs">O</text><text x="261.10" y="349.5" font-size="66.2" textLength="22.8" lengthAdjust="spacingAndGlyphs">O</text><text x="262.30" y="349.5" font-size="66.2" textLength="22.8" lengthAdjust="spacingAndGlyphs">O</text><text x="263.50" y="349.5" font-size="66.2" textLength="22.8" lengthAdjust="spacingAndGlyphs">O</text><text x="306.20" y="349.5" font-size="66.2" textLength="21.3" lengthAdjust="spacingAndGlyphs">P</text><text x="307.40" y="349.5" font-size="66.2" textLength="21.3" lengthAdjust="spacingAndGlyphs">P</text><text x="308.60" y="349.5" font-size="66.2" textLength="21.3" lengthAdjust="spacingAndGlyphs">P</text><text x="309.80" y="349.5" font-size="66.2" textLength="21.3" lengthAdjust="spacingAndGlyphs">P</text><text x="311.00" y="349.5" font-size="66.2" textLength="21.3" lengthAdjust="spacingAndGlyphs">P</text><text x="334.70" y="349.5" font-size="66.2" textLength="19.8" lengthAdjust="spacingAndGlyphs">E</text><text x="335.90" y="349.5" font-size="66.2" textLength="19.8" lengthAdjust="spacingAndGlyphs">E</text><text x="337.10" y="349.5" font-size="66.2" textLength="19.8" lengthAdjust="spacingAndGlyphs">E</text><text x="338.30" y="349.5" font-size="66.2" textLength="19.8" lengthAdjust="spacingAndGlyphs">E</text><text x="339.50" y="349.5" font-size="66.2" textLength="19.8" lengthAdjust="spacingAndGlyphs">E</text><text x="358.20" y="349.5" font-size="66.2" textLength="20.8" lengthAdjust="spacingAndGlyphs">N</text><text x="359.40" y="349.5" font-size="66.2" textLength="20.8" lengthAdjust="spacingAndGlyphs">N</text><text x="360.60" y="349.5" font-size="66.2" textLength="20.8" lengthAdjust="spacingAndGlyphs">N</text><text x="361.80" y="349.5" font-size="66.2" textLength="20.8" lengthAdjust="spacingAndGlyphs">N</text><text x="363.00" y="349.5" font-size="66.2" textLength="20.8" lengthAdjust="spacingAndGlyphs">N</text><text x="381.20" y="349.5" font-size="66.2" textLength="20.3" lengthAdjust="spacingAndGlyphs">T</text><text x="382.40" y="349.5" font-size="66.2" textLength="20.3" lengthAdjust="spacingAndGlyphs">T</text><text x="383.60" y="349.5" font-size="66.2" textLength="20.3" lengthAdjust="spacingAndGlyphs">T</text><text x="384.80" y="349.5" font-size="66.2" textLength="20.3" lengthAdjust="spacingAndGlyphs">T</text><text x="386.00" y="349.5" font-size="66.2" textLength="20.3" lengthAdjust="spacingAndGlyphs">T</text><text x="403.20" y="349.5" font-size="66.2" textLength="20.3" lengthAdjust="spacingAndGlyphs">A</text><text x="404.40" y="349.5" font-size="66.2" textLength="20.3" lengthAdjust="spacingAndGlyphs">A</text><text x="405.60" y="349.5" font-size="66.2" textLength="20.3" lengthAdjust="spacingAndGlyphs">A</text><text x="406.80" y="349.5" font-size="66.2" textLength="20.3" lengthAdjust="spacingAndGlyphs">A</text><text x="408.00" y="349.5" font-size="66.2" textLength="20.3" lengthAdjust="spacingAndGlyphs">A</text></g></g></svg>
</body></html>
